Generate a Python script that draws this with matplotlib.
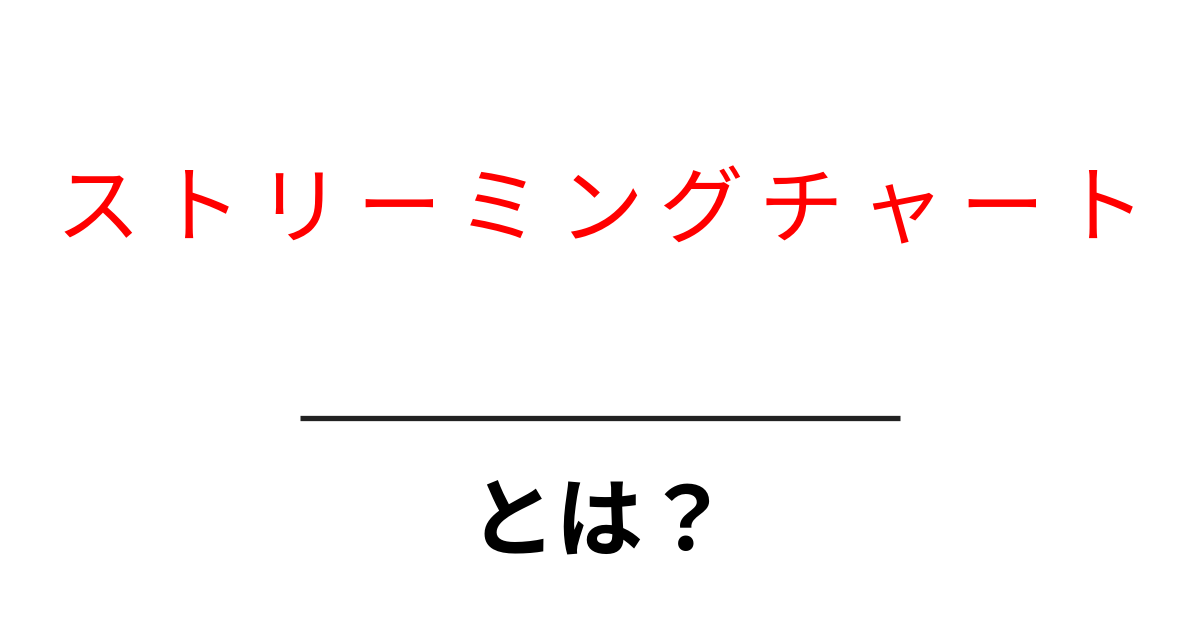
import matplotlib
matplotlib.use("Agg")
import matplotlib.pyplot as plt

plt.rcParams['font.family'] = ['Noto Sans CJK JP', 'DejaVu Sans']

title_chars = list("ストリーミングチャート")
subtitle = "とは？"

fig = plt.figure(figsize=(12, 6.3), dpi=100)
ax = fig.add_axes([0, 0, 1, 1])
ax.set_xlim(0, 1200)
ax.set_ylim(630, 0)
ax.axis("off")

# red title, spaced out letter by letter
step = 100.5
x0 = 600 - step * (len(title_chars) - 1) / 2
for i, ch in enumerate(title_chars):
    ax.text(x0 + i * step, 212, ch, color="#ff0000", fontsize=61,
            ha="center", va="center", fontweight="normal")

ax.plot([300, 900], [418, 418], color="#222222", lw=3.8, solid_capstyle="butt")

ax.text(600, 525, subtitle, color="black", fontsize=63, ha="center",
        va="center", fontweight="bold")

fig.savefig("out.png", dpi=100, facecolor="white")
